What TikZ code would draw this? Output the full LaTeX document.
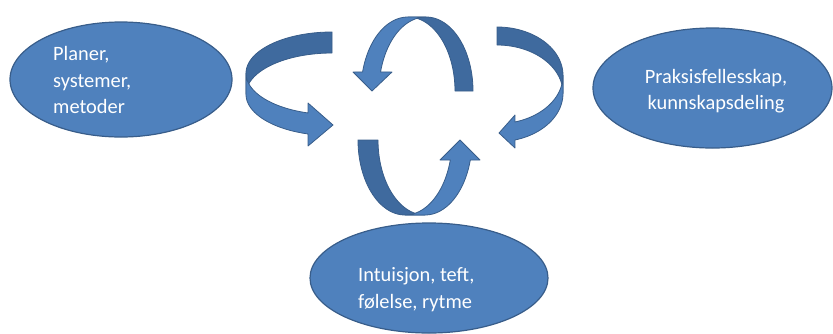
\documentclass[tikz,border=0pt]{standalone}
\usepackage{fontspec}
\setmainfont{Carlito}
\usetikzlibrary{shapes.geometric}

\definecolor{bubblefill}{RGB}{79,129,189}
\definecolor{bubbleline}{RGB}{56,93,138}
\definecolor{ribbonback}{RGB}{63,106,158}

% elliptic arc as a sampled plot: centre (#1,#2), radii #3/#4, angles #5 -> #6
\newcommand\ribbonarc[6]{plot[domain=#5:#6, samples=60, variable=\t]
  ({#1+#3*cos(\t)},{#2+#4*sin(\t)})}
% the same arc, joined to the current point by a straight line
\newcommand\ribbonto[6]{-- plot[domain=#5:#6, samples=60, variable=\t]
  ({#1+#3*cos(\t)},{#2+#4*sin(\t)})}

\begin{document}
\begin{tikzpicture}[x=1pt, y=-1pt,
  bubble/.style={ellipse, fill=bubblefill, draw=bubbleline, line width=1.2pt, inner sep=0pt},
  bubbletext/.style={text=white, inner sep=0pt,
    font=\fontsize{20.4}{26.3}\selectfont},
  backband/.style={fill=ribbonback, draw=bubbleline, line width=0.8pt, line join=round},
  frontband/.style={fill=bubblefill, draw=bubbleline, line width=0.8pt, line join=round}]

\useasboundingbox (0,0) rectangle (833,333);

% the three topic ellipses
\node[bubble, minimum width=222pt, minimum height=115pt] (plans) at (121,79.5) {};
\node[bubble, minimum width=239pt, minimum height=120pt] (practice) at (712.5,88) {};
\node[bubble, minimum width=238pt, minimum height=110pt] (intuition) at (429,278) {};

\node[bubbletext, align=left, anchor=west] (planstext) at (53,80) {Planer,\\systemer,\\metoder};
\node[bubbletext, align=center] (practicetext) at (716,91) {Praksisfellesskap,\\kunnskapsdeling};
\node[bubbletext, align=left, anchor=west] (intuitiontext) at (358,289.5) {Intuisjon, teft,\\følelse, rytme};

% back faces of the four curved ribbon arrows
\filldraw[backband] \ribbonarc{332}{73.3}{86}{41.3}{-90}{-180}
  \ribbonto{332}{94.3}{86}{41.3}{-180}{-90} -- cycle;
\filldraw[backband] \ribbonarc{497}{75.4}{66}{48.4}{-90}{0}
  \ribbonto{497}{93.4}{66}{48.4}{0}{-90} -- cycle;
\filldraw[backband] \ribbonarc{426}{91}{47}{74}{0}{-90}
  \ribbonto{408}{91}{47}{74}{-90}{0} -- cycle;
\filldraw[backband] \ribbonarc{405}{140}{47}{75}{180}{90}
  \ribbonto{425}{140}{47}{75}{90}{180} -- cycle;

% front faces with arrowheads
\filldraw[frontband] \ribbonarc{332}{73.3}{86}{41.3}{180}{106.2}
  -- (308,103) -- (333,125) -- (308,146)
  \ribbonto{332}{94.3}{86}{41.3}{106.2}{180} -- cycle;
\filldraw[frontband] \ribbonarc{497}{75.4}{66}{48.4}{0}{74.2}
  -- (515,115) -- (499,133) -- (515,148)
  \ribbonto{497}{93.4}{66}{48.4}{74.2}{0} -- cycle;
\filldraw[frontband] \ribbonarc{426}{91}{47}{74}{-90}{-165.1}
  -- (392,72) -- (372,91) -- (353,72)
  \ribbonto{408}{91}{47}{74}{-165.1}{-90} -- cycle;
\filldraw[frontband] \ribbonarc{405}{140}{47}{75}{90}{15.5}
  -- (440,160) -- (460,140) -- (480,160)
  \ribbonto{425}{140}{47}{75}{15.5}{90} -- cycle;

\end{tikzpicture}
\end{document}
